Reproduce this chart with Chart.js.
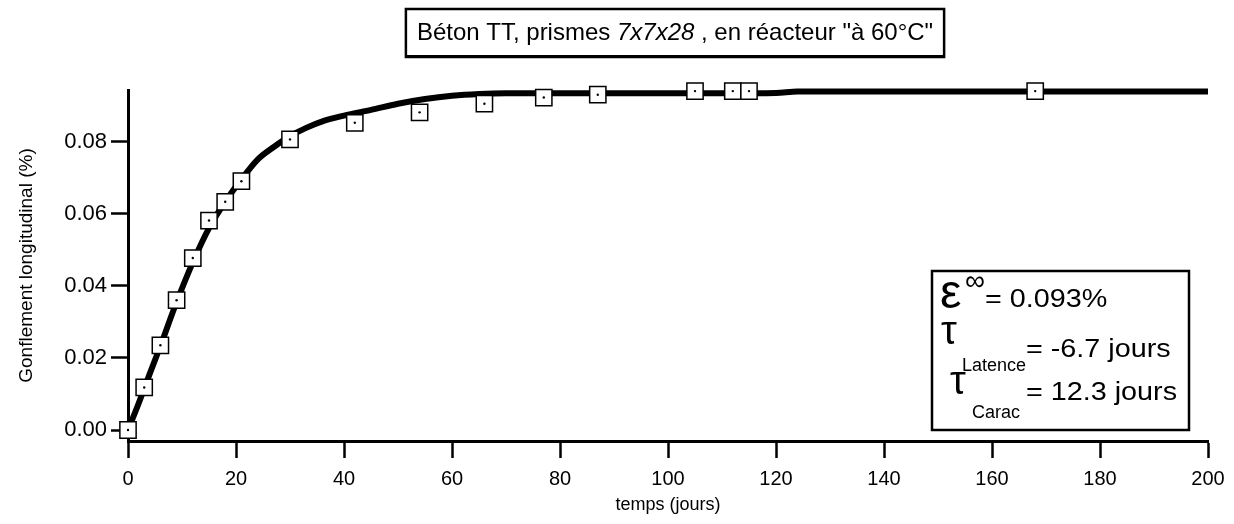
<!DOCTYPE html>
<html>
<head>
<meta charset="utf-8">
<script src="https://cdn.jsdelivr.net/npm/chart.js@4"></script>
<style>
    html, body { margin: 0; padding: 0; background: #fff; }
    #box { width: 1234px; height: 524px; position: relative; }
</style>
</head>
<body>
<div id="box"><canvas id="chartGonflement"></canvas></div>
<script>
// measured points (temps in days, swelling in %)
const measTime = [0, 3, 6, 9, 12, 15, 18, 21, 30, 42, 54, 66, 77, 87, 105, 112, 115, 168];
const measSwell = [0.0000, 0.0118, 0.0235, 0.0360, 0.0477, 0.0581, 0.0633, 0.0690, 0.0806, 0.0852, 0.0881, 0.0905, 0.0922, 0.0930, 0.0940, 0.0940, 0.0940, 0.0940];

// fitted curve
const fitTime = [0, 2, 4, 6, 9, 12, 15, 18, 21, 24, 27, 30, 33, 36, 40, 45, 50, 55, 60, 65, 70, 80, 90, 100, 110, 120, 124, 140, 160, 180, 200];
const fitSwell = [0, 0.0075, 0.0155, 0.0233, 0.0355, 0.0465, 0.0560, 0.0633, 0.0695, 0.0750, 0.0785, 0.0815, 0.0838, 0.0856, 0.0872, 0.0888, 0.0905, 0.0918, 0.0927, 0.0932, 0.0934, 0.0934, 0.0934, 0.0934, 0.0934, 0.0935, 0.0939, 0.0939, 0.0939, 0.0939, 0.0939];

const xTicks = [0, 20, 40, 60, 80, 100, 120, 140, 160, 180, 200];
const yTicks = [0, 0.02, 0.04, 0.06, 0.08];

const FONT = '"Liberation Sans", Arial, Helvetica, sans-serif';

const titlePlugin = {
    id: 'boxedTitle',
    afterDraw(chart) {
        const ctx = chart.ctx;
        const parts = [
            { text: 'Béton TT, prismes ', style: '' },
            { text: '7x7x28', style: 'italic ' },
            { text: ' , en réacteur "à 60°C"', style: '' }
        ];
        ctx.save();
        let w = 0;
        for (const p of parts) {
            ctx.font = p.style + '24px ' + FONT;
            p.w = ctx.measureText(p.text).width;
            w += p.w;
        }
        const cx = 675;
        let x = cx - w / 2;
        const left = x - 11, right = x + w + 11;
        ctx.strokeStyle = '#000';
        ctx.lineWidth = 2.5;
        ctx.strokeRect(left, 9, right - left, 48);
        ctx.fillStyle = '#000';
        ctx.fillRect(left, 55, right - left, 3);
        ctx.textBaseline = 'alphabetic';
        for (const p of parts) {
            ctx.font = p.style + '24px ' + FONT;
            ctx.fillText(p.text, x, 40);
            x += p.w;
        }
        ctx.restore();
    }
};

const resultPlugin = {
    id: 'resultBox',
    afterDraw(chart) {
        const ctx = chart.ctx;
        ctx.save();
        ctx.strokeStyle = '#000';
        ctx.lineWidth = 2.5;
        ctx.strokeRect(932, 271, 257, 159);
        ctx.fillStyle = '#000';
        ctx.textBaseline = 'alphabetic';

        const stretched = (txt, x, y) => {
            ctx.save();
            ctx.translate(x, y);
            ctx.scale(1.15, 1);
            ctx.font = '25px ' + FONT;
            ctx.fillText(txt, 0, 0);
            ctx.restore();
        };

        ctx.font = '48px ' + FONT;
        ctx.fillText('ε', 940, 308);
        ctx.font = '28px ' + FONT;
        ctx.fillText('∞', 965, 290);
        stretched('= 0.093%', 985, 307);

        ctx.font = '40px ' + FONT;
        ctx.fillText('τ', 941, 344);
        ctx.font = '18px ' + FONT;
        ctx.fillText('Latence', 962, 371);
        stretched('= -6.7 jours', 1026, 357);

        ctx.font = '40px ' + FONT;
        ctx.fillText('τ', 950, 394);
        ctx.font = '18px ' + FONT;
        ctx.fillText('Carac', 972, 418);
        stretched('= 12.3 jours', 1026, 400);
        ctx.restore();
    }
};

const fitData = fitTime.map((t, i) => ({ x: t, y: fitSwell[i] }));
const measData = measTime.map((t, i) => ({ x: t, y: measSwell[i] }));

new Chart(document.getElementById('chartGonflement'), {
    type: 'scatter',
    data: {
        datasets: [
            {
                label: 'centre',
                data: measData,
                pointStyle: 'circle',
                pointRadius: 1.2,
                pointBackgroundColor: '#000',
                pointBorderWidth: 0,
                showLine: false,
                clip: false,
                order: 1
            },
            {
                label: 'mesures',
                data: measData,
                pointStyle: 'rect',
                pointRadius: 11.5,
                pointBackgroundColor: '#fff',
                pointBorderColor: '#000',
                pointBorderWidth: 1.5,
                showLine: false,
                clip: false,
                order: 2
            },
            {
                label: 'ajustement',
                data: fitData,
                showLine: true,
                borderColor: '#000',
                borderWidth: 6,
                pointRadius: 0,
                cubicInterpolationMode: 'monotone',
                clip: false,
                order: 3
            }
        ]
    },
    plugins: [titlePlugin, resultPlugin],
    options: {
        responsive: true,
        maintainAspectRatio: false,
        animation: false,
        layout: { padding: { top: 90, right: 26, left: 0, bottom: 0 } },
        plugins: {
            legend: { display: false },
            tooltip: { enabled: false }
        },
        scales: {
            x: {
                type: 'linear',
                min: 0,
                max: 200,
                afterFit: (scale) => { scale.height = 83; },
                afterBuildTicks: (scale) => { scale.ticks = xTicks.map(v => ({ value: v })); },
                border: { color: '#000', width: 3 },
                grid: { drawOnChartArea: false, drawTicks: true, tickLength: 17, tickWidth: 2.5, tickColor: '#000' },
                ticks: { color: '#000', padding: 9, font: { family: FONT, size: 20 }, callback: (v) => String(v) },
                title: { display: true, text: 'temps (jours)', color: '#000', font: { family: FONT, size: 18 }, padding: { top: 0, bottom: 8 } }
            },
            y: {
                type: 'linear',
                min: -0.00305,
                max: 0.0943,
                afterFit: (scale) => { scale.width = 128; },
                afterBuildTicks: (scale) => { scale.ticks = yTicks.map(v => ({ value: v })); },
                border: { color: '#000', width: 3 },
                grid: { drawOnChartArea: false, drawTicks: true, tickLength: 17, tickWidth: 2.5, tickColor: '#000' },
                ticks: { color: '#000', padding: 4, font: { family: FONT, size: 22 }, callback: (v) => v.toFixed(2) },
                title: { display: true, text: 'Gonflement longitudinal (%)', color: '#000', font: { family: FONT, size: 19 }, padding: { top: 15, bottom: 0 } }
            }
        }
    }
});
</script>
</body>
</html>
